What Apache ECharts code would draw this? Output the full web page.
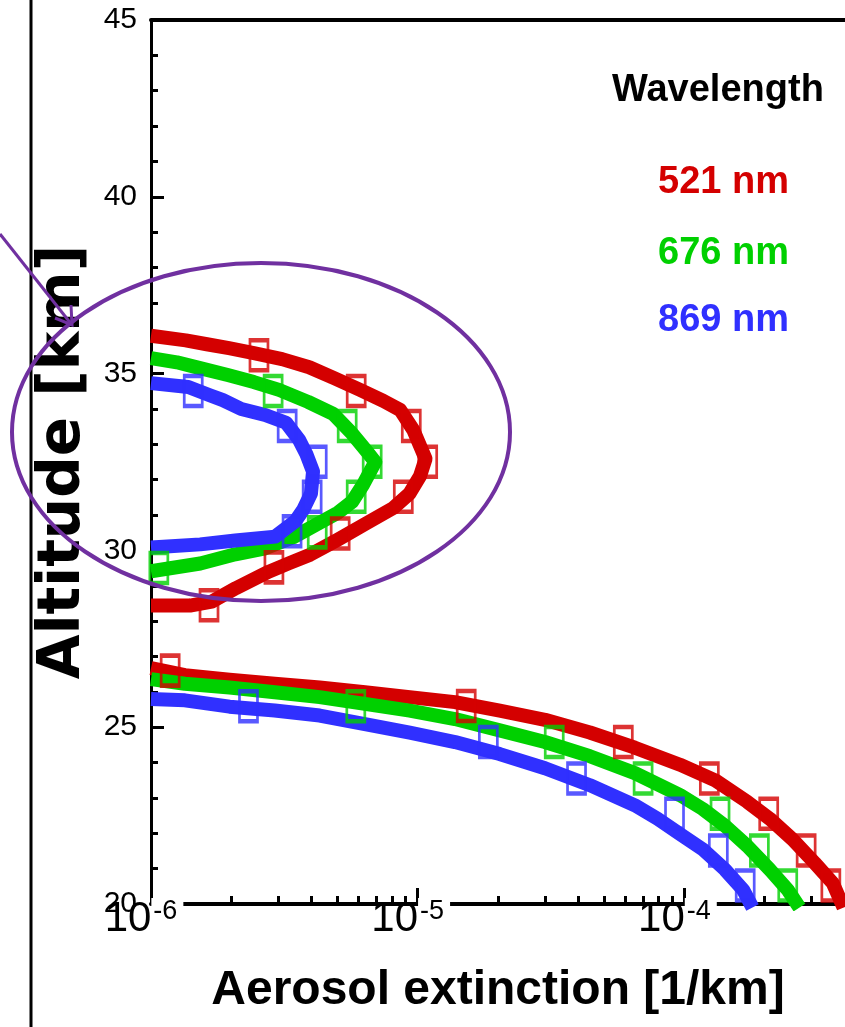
<!DOCTYPE html>
<html><head><meta charset="utf-8">
<script src="https://cdn.jsdelivr.net/npm/echarts@6/dist/echarts.min.js"></script>
<style>html,body{margin:0;padding:0;background:#fff}#c{width:845px;height:1027px}</style>
</head><body><div id="c"></div>
<script>
// ---- data ----
const wavelengths = ['521 nm', '676 nm', '869 nm'];
const colors = ['#D40000', '#00D000', '#3030FF'];
const xMajorTicks = [1e-6, 1e-5, 1e-4];
const xMinorTicks = [2e-6,3e-6,4e-6,5e-6,6e-6,7e-6,8e-6,9e-6,2e-5,3e-5,4e-5,5e-5,6e-5,7e-5,8e-5,9e-5,2e-4,3e-4];
const yTicks = [20, 25, 30, 35, 40, 45];
const yMinorTicks = [21,22,23,24,26,27,28,29,31,32,33,34,36,37,38,39,41,42,43,44];

// upper layer (about 28-36 km): [extinction 1/km, altitude km]
const red521Upper = [[1.0e-6,36.07],[1.35e-6,35.94],[1.62e-6,35.83],[1.96e-6,35.72],[2.43e-6,35.58],[3.1e-6,35.41],[3.92e-6,35.18],[4.86e-6,34.87],[6.08e-6,34.54],[7.43e-6,34.23],[8.6e-6,33.97],[9.62e-6,33.41],[1.07e-5,32.59],[1.02e-5,32.1],[9.3e-6,31.6],[8.1e-6,31.2],[6.4e-6,30.76],[5.0e-6,30.3],[3.95e-6,29.88],[3.3e-6,29.64],[2.77e-6,29.4],[2.08e-6,28.93],[1.69e-6,28.55],[1.4e-6,28.44],[1.0e-6,28.44]];
const green676Upper = [[1.0e-6,35.44],[1.25e-6,35.32],[1.5e-6,35.17],[1.94e-6,34.96],[2.43e-6,34.76],[3.02e-6,34.54],[3.88e-6,34.2],[4.82e-6,33.86],[5.68e-6,33.3],[6.46e-6,32.79],[6.93e-6,32.5],[6.24e-6,31.86],[5.68e-6,31.38],[5.03e-6,31.07],[4.23e-6,30.76],[3.41e-6,30.37],[2.68e-6,30.06],[2.07e-6,29.89],[1.53e-6,29.63],[1.0e-6,29.41]];
const blue869Upper = [[1.0e-6,34.73],[1.38e-6,34.62],[1.66e-6,34.39],[1.86e-6,34.25],[2.18e-6,34.0],[2.68e-6,33.83],[3.21e-6,33.61],[3.59e-6,33.13],[3.82e-6,32.73],[4.05e-6,32.23],[3.98e-6,31.61],[3.72e-6,31.15],[3.47e-6,30.82],[2.92e-6,30.39],[2.07e-6,30.28],[1.53e-6,30.17],[1.0e-6,30.08]];

// lower layer (20-27 km)
const red521Lower = [[1.0e-6,26.67],[1.34e-6,26.47],[1.97e-6,26.34],[2.91e-6,26.23],[4.29e-6,26.12],[6.34e-6,25.99],[9.33e-6,25.85],[1.38e-5,25.71],[2.03e-5,25.47],[3.0e-5,25.21],[4.42e-5,24.85],[6.52e-5,24.42],[9.62e-5,23.94],[1.31e-4,23.49],[1.72e-4,22.89],[2.09e-4,22.41],[2.54e-4,21.83],[3.08e-4,21.16],[3.6e-4,20.59],[3.95e-4,19.9]];
const green676Lower = [[1.0e-6,26.36],[1.34e-6,26.23],[1.97e-6,26.12],[2.91e-6,25.99],[4.29e-6,25.85],[6.34e-6,25.66],[9.33e-6,25.47],[1.38e-5,25.23],[2.03e-5,24.91],[3.0e-5,24.58],[4.42e-5,24.18],[6.52e-5,23.70],[9.62e-5,23.08],[1.17e-4,22.69],[1.42e-4,22.21],[1.72e-4,21.64],[2.09e-4,20.97],[2.44e-4,20.40],[2.7e-4,19.9]];
const blue869Lower = [[1.0e-6,25.80],[1.34e-6,25.76],[1.97e-6,25.58],[2.91e-6,25.47],[4.29e-6,25.33],[6.34e-6,25.09],[9.33e-6,24.85],[1.38e-5,24.58],[2.03e-5,24.24],[3.0e-5,23.84],[4.42e-5,23.36],[6.52e-5,22.79],[7.93e-5,22.41],[9.62e-5,21.98],[1.17e-4,21.55],[1.42e-4,20.97],[1.66e-4,20.40],[1.8e-4,19.9]];

// measured points (square markers)
const red521Points = [[2.54e-6,35.52],[5.88e-6,34.51],[9.46e-6,33.52],[1.09e-5,32.51],[8.83e-6,31.52],[5.12e-6,30.48],[2.89e-6,29.52],[1.65e-6,28.45],[1.18e-6,26.6],[1.52e-5,25.6],[5.9e-5,24.58],[1.24e-4,23.55],[2.07e-4,22.55],[2.86e-4,21.51],[3.54e-4,20.52]];
const green676Points = [[2.87e-6,34.51],[5.44e-6,33.52],[6.75e-6,32.51],[5.88e-6,31.52],[4.2e-6,30.51],[1.07e-6,29.5],[5.86e-6,25.59],[3.25e-5,24.58],[7.0e-5,23.55],[1.36e-4,22.55],[1.91e-4,21.51],[2.44e-4,20.52]];
const blue869Points = [[1.44e-6,34.51],[3.24e-6,33.52],[4.2e-6,32.51],[4.02e-6,31.52],[3.38e-6,30.54],[2.32e-6,25.59],[1.84e-5,24.58],[3.94e-5,23.55],[9.18e-5,22.55],[1.34e-4,21.51],[1.69e-4,20.52]];

const upper = [red521Upper, green676Upper, blue869Upper];
const lower = [red521Lower, green676Lower, blue869Lower];
const points = [red521Points, green676Points, blue869Points];

// ---- chart ----
const FONT = '"Liberation Sans", Arial, sans-serif';
const chart = echarts.init(document.getElementById('c'), null, {renderer: 'canvas'});
const series = [];
for (let i = 0; i < 3; i++) {
  [upper[i], lower[i]].forEach(d => series.push({
    name: wavelengths[i], type: 'line', data: d, symbol: 'none',
    lineStyle: {color: colors[i], width: 14, join: 'round', cap: 'butt'},
    z: 2 + i, silent: true, clip: true
  }));
}
for (let i = 0; i < 3; i++) {
  series.push({
    name: wavelengths[i], type: 'scatter', data: points[i], symbol: 'rect', symbolSize: [18, 30],
    itemStyle: {color: 'rgba(255,255,255,0)', borderColor: colors[i], borderWidth: 3.5},
    z: 6, silent: true
  });
}
const legendY = [183, 254, 321];
const graphics = [
  {type: 'line', shape: {x1: 31, y1: 0, x2: 31, y2: 1027}, style: {stroke: '#000', lineWidth: 3}},
  {type: 'ellipse', shape: {cx: 261, cy: 432, rx: 249, ry: 169}, style: {fill: 'none', stroke: '#7030A0', lineWidth: 4}, z: 20},
  {type: 'line', shape: {x1: 0, y1: 234, x2: 72, y2: 325}, style: {stroke: '#7030A0', lineWidth: 3}, z: 20},
  {type: 'polyline', shape: {points: [[55, 318], [72, 325], [71, 305]]}, style: {fill: 'none', stroke: '#7030A0', lineWidth: 3}, z: 20},
  {type: 'text', x: 612, y: 91, style: {text: 'Wavelength', fill: '#000', font: 'bold 38px ' + FONT, verticalAlign: 'middle'}, z: 20}
];
for (let i = 0; i < 3; i++) {
  graphics.push({type: 'text', x: 658, y: legendY[i], style: {text: wavelengths[i], fill: colors[i], font: 'bold 38px ' + FONT, verticalAlign: 'middle'}, z: 20});
}
chart.setOption({
  animation: false,
  backgroundColor: '#fff',
  grid: {left: 151, top: 20, right: 0, bottom: 123, containLabel: false, outerBoundsMode: 'none'},
  xAxis: [
    {
      type: 'log', logBase: 10, min: 1e-6, max: 4e-4, position: 'bottom',
      name: 'Aerosol extinction [1/km]', nameLocation: 'middle', nameGap: 63,
      nameTextStyle: {fontFamily: FONT, fontWeight: 'bold', fontSize: 48, color: '#000'},
      axisLine: {show: true, onZero: false, lineStyle: {color: '#000', width: 4}},
      axisTick: {show: true, inside: true, length: 16, customValues: xMajorTicks, lineStyle: {color: '#000', width: 3}},
      axisLabel: {
        show: true, customValues: xMajorTicks, margin: -6, color: '#000',
        padding: [0, 14, 0, 0],
        formatter: v => '{b|10}{s|' + Math.round(Math.log10(v)) + '}',
        rich: {
          b: {fontFamily: FONT, fontSize: 42, lineHeight: 42, padding: [14, 0, 0, 0], color: '#000', verticalAlign: 'bottom'},
          s: {fontFamily: FONT, fontSize: 27, lineHeight: 27, color: '#000', verticalAlign: 'top', backgroundColor: '#fff', padding: [0, 6, 0, 2]}
        }
      },
      splitLine: {show: false}
    },
    {
      type: 'log', logBase: 10, min: 1e-6, max: 4e-4, position: 'bottom',
      axisLine: {show: false},
      axisTick: {show: true, inside: true, length: 8, customValues: xMinorTicks, lineStyle: {color: '#000', width: 3}},
      axisLabel: {show: false}, splitLine: {show: false}
    },
    {
      type: 'log', logBase: 10, min: 1e-6, max: 4e-4, position: 'top',
      axisLine: {show: true, onZero: false, lineStyle: {color: '#000', width: 4}},
      axisTick: {show: false}, axisLabel: {show: false}, splitLine: {show: false}
    }
  ],
  yAxis: [
    {
      type: 'value', min: yTicks[0], max: yTicks[yTicks.length - 1], interval: 5, position: 'left',
      name: 'Altitude [km]', nameLocation: 'middle', nameGap: 38, nameRotate: 90,
      nameTextStyle: {fontFamily: '"DejaVu Sans", sans-serif', fontWeight: 'bold', fontSize: 58, color: '#000'},
      axisLine: {show: true, onZero: false, lineStyle: {color: '#000', width: 3}},
      axisTick: {show: true, inside: true, length: 13, customValues: yTicks, lineStyle: {color: '#000', width: 3}},
      axisLabel: {fontFamily: FONT, fontSize: 30, color: '#000', margin: 14, customValues: yTicks},
      splitLine: {show: false}
    },
    {
      type: 'value', min: yTicks[0], max: yTicks[yTicks.length - 1], position: 'left',
      axisLine: {show: false},
      axisTick: {show: true, inside: true, length: 7, customValues: yMinorTicks, lineStyle: {color: '#000', width: 3}},
      axisLabel: {show: false}, splitLine: {show: false}
    }
  ],
  series: series,
  graphic: graphics
});
</script></body></html>
